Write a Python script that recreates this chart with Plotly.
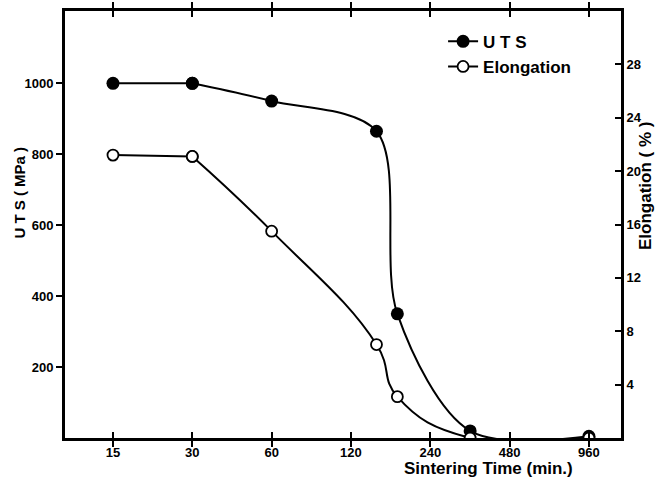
import plotly.graph_objects as go

# Data
time_min = [15, 30, 60, 150, 180, 340, 960]
uts_mpa = [1000, 1000, 950, 865, 350, 20, 5]
elongation_pct = [21.2, 21.1, 15.5, 7.0, 3.1, 0.0, 0.0]

x_ticks = [15, 30, 60, 120, 240, 480, 960]
uts_ticks = [200, 400, 600, 800, 1000]
el_ticks = [4, 8, 12, 16, 20, 24, 28]

FONT = "Liberation Sans"
BOLD = dict(family=FONT, size=13, color="black", weight="bold")

el_marker = dict(symbol="circle", size=11, color="white", line=dict(color="black", width=1.8))
uts_marker = dict(symbol="circle", size=13, color="black")

fig = go.Figure()

# flat initial plateau (straight), then smooth curve for the rest
fig.add_trace(go.Scatter(
    x=time_min[:2], y=elongation_pct[:2], yaxis="y2", showlegend=False,
    mode="lines+markers", line=dict(color="black", width=2), marker=el_marker,
))
fig.add_trace(go.Scatter(
    x=time_min[1:], y=elongation_pct[1:], name="Elongation", yaxis="y2",
    mode="lines+markers", line=dict(color="black", width=2, shape="spline", smoothing=1.3),
    marker=el_marker,
))
fig.add_trace(go.Scatter(
    x=time_min[:2], y=uts_mpa[:2], showlegend=False,
    mode="lines+markers", line=dict(color="black", width=2), marker=uts_marker,
))
fig.add_trace(go.Scatter(
    x=time_min[1:], y=uts_mpa[1:], name="U T S",
    mode="lines+markers", line=dict(color="black", width=2, shape="spline", smoothing=0.9),
    marker=uts_marker,
))

axis_common = dict(showgrid=False, zeroline=False, showline=True, linecolor="black", linewidth=3,
                   tickcolor="black", tickwidth=2, ticklen=6, tickfont=BOLD)

fig.update_layout(
    width=670, height=482,
    margin=dict(l=65, r=49, t=8, b=44),
    paper_bgcolor="white", plot_bgcolor="white",
    showlegend=True,
    legend=dict(x=0.68, y=0.97, xanchor="left", yanchor="top", bgcolor="rgba(0,0,0,0)",
                font=dict(family=FONT, size=17, color="black", weight="bold"),
                traceorder="reversed", tracegroupgap=2),
    xaxis=dict(type="log", range=[0.994, 3.104], tickvals=x_ticks, ticktext=[str(v) for v in x_ticks],
               ticks="inside", mirror="allticks", **axis_common),
    yaxis=dict(range=[0, 1204], tickvals=uts_ticks, ticks="outside", **axis_common),
    yaxis2=dict(range=[0, 32], tickvals=el_ticks, ticks="inside", overlaying="y", side="right",
                **axis_common),
    annotations=[
        dict(text="U T S ( MPa )", xref="paper", yref="paper", x=-0.0825, y=0.575, textangle=-90,
             showarrow=False, font=dict(family=FONT, size=15, color="black", weight="bold"),
             xanchor="center", yanchor="middle"),
        dict(text="Elongation ( % )", xref="paper", yref="paper", x=1.043, y=0.59, textangle=-90,
             showarrow=False, font=dict(family=FONT, size=17, color="black", weight="bold"),
             xanchor="center", yanchor="middle"),
        dict(text="Sintering Time (min.)", xref="paper", yref="paper", x=0.762, y=-0.072,
             showarrow=False, font=dict(family=FONT, size=17, color="black", weight="bold"),
             xanchor="center", yanchor="middle"),
    ],
)

fig.write_html("out.html")
